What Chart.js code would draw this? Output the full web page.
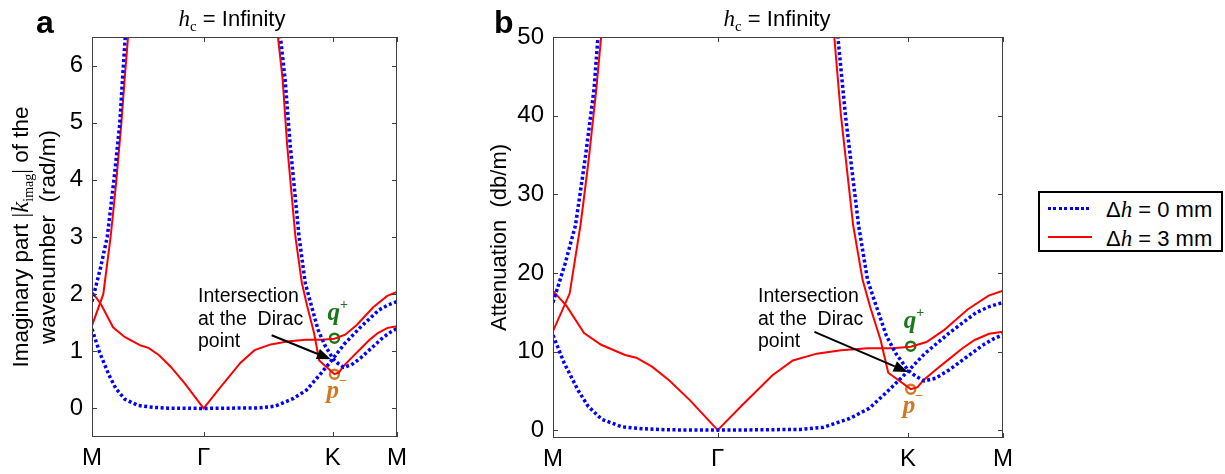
<!DOCTYPE html>
<html>
<head>
<meta charset="utf-8">
<script src="https://cdn.jsdelivr.net/npm/chart.js@4.4.1/dist/chart.umd.min.js"></script>
<style>
  body { margin: 0; background: #fff; width: 1225px; height: 474px; position: relative; overflow: hidden; font-family: "Liberation Sans", Arial, sans-serif; }
  canvas { position: absolute; top: 0; }
  #chartA { left: 0; }
  #chartB { left: 455px; }
  .legend { position: absolute; left: 1038px; top: 191px; width: 181px; height: 57px; border: 2px solid #000; background: #fff; }
  .swatch { position: absolute; left: 8px; width: 44px; }
  .dotted { top: 14px; height: 3px; background: repeating-linear-gradient(90deg, #0000ff 0 3px, transparent 3px 5.5px); }
  .solid { top: 43px; height: 2px; background: #ff0000; }
  .label { position: absolute; left: 66px; font-size: 22px; line-height: 22px; white-space: pre; color: #000; }
  .label i { font-family: "Liberation Serif", "Times New Roman", serif; font-size: 23px; }
</style>
</head>
<body>
<canvas id="chartA" width="440" height="474"></canvas>
<canvas id="chartB" width="565" height="474"></canvas>
<div class="legend">
  <div class="swatch dotted"></div>
  <div class="label" style="top:6px">Δ<i>h</i> = 0 mm</div>
  <div class="swatch solid"></div>
  <div class="label" style="top:35px">Δ<i>h</i> = 3 mm</div>
</div>
<script>
const SANS = '"Liberation Sans", Arial, sans-serif';
const SERIF = '"Liberation Serif", "Times New Roman", serif';

// position along the M-Γ-K-M path, scaled so the whole path runs 0..1
const pathTicks = [0, 0.366, 0.789, 1];
const pathLabels = ["M", "Γ", "K", "M"];

const kTicks = [0, 1, 2, 3, 4, 5, 6];
const dbTicks = [0, 10, 20, 30, 40, 50];

// |k_imag| in rad/m, Δh = 0 mm
const flatBand0 = [[0, 1.39], [0.025, 0.98], [0.056, 0.58], [0.078, 0.35], [0.108, 0.16], [0.152, 0.05], [0.2, 0.02], [0.25, 0.005], [0.366, 0], [0.55, 0.01], [0.6, 0.04], [0.659, 0.17], [0.703, 0.32], [0.747, 0.59], [0.79, 0.87], [0.826, 1.12], [0.88, 1.42], [0.94, 1.72], [0.97, 1.81], [1, 1.87]];
const leftBand0 = [[0, 1.87], [0.027, 2.44], [0.05, 3.0], [0.072, 4.0], [0.091, 4.98], [0.1, 5.76], [0.109, 6.49], [0.114, 7.2]];
const rightBand0 = [[0.612, 7.3], [0.618, 6.49], [0.633, 5.76], [0.65, 4.6], [0.679, 3.0], [0.699, 2.2], [0.714, 1.9], [0.741, 1.38], [0.762, 1.12], [0.79, 0.87], [0.806, 0.79], [0.825, 0.72], [0.85, 0.76], [0.88, 0.88], [0.917, 1.06], [0.954, 1.24], [0.98, 1.34], [1, 1.40]];

// |k_imag| in rad/m, Δh = 3 mm
const leftBand3 = [[0, 1.45], [0.037, 2.0], [0.061, 3.0], [0.069, 3.41], [0.08, 4.0], [0.096, 4.98], [0.107, 5.76], [0.118, 6.49], [0.123, 7.2]];
const gammaBand3 = [[0, 2.04], [0.03, 1.82], [0.069, 1.42], [0.107, 1.25], [0.16, 1.10], [0.185, 1.06], [0.22, 0.93], [0.258, 0.73], [0.304, 0.44], [0.366, 0], [0.418, 0.35], [0.487, 0.8], [0.533, 1.02], [0.586, 1.12], [0.64, 1.17], [0.7, 1.2], [0.754, 1.2], [0.795, 1.22], [0.83, 1.29], [0.868, 1.46], [0.922, 1.77], [0.968, 1.97], [1, 2.04]];
const rightBand3 = [[0.605, 7.2], [0.61, 6.49], [0.625, 5.76], [0.64, 4.6], [0.667, 3.0], [0.688, 2.2], [0.705, 1.8], [0.728, 1.32], [0.745, 0.84], [0.795, 0.6], [0.81, 0.63], [0.823, 0.73], [0.85, 0.88], [0.88, 1.04], [0.91, 1.2], [0.937, 1.32], [0.969, 1.41], [1, 1.44]];

// split modes at K
const qPlus = [0.795, 1.23];
const pMinus = [0.795, 0.60];

// attenuation in dB/m = 20·log10(e) × |k_imag|
const DB_PER_NEPER = 20 * Math.log10(Math.E);

const BLUE = "#0000ff";
const RED = "#ff0000";
const GREEN = "#1a781a";
const ORANGE = "#cf7a22";

function curve(points, color, dotted, scale) {
  return {
    data: points.map(([x, y]) => ({ x: x, y: y * scale })),
    showLine: true,
    pointRadius: 0,
    borderColor: color,
    borderWidth: dotted ? 3.5 : 2,
    borderDash: dotted ? [3, 2.5] : [],
    tension: 0,
    fill: false,
  };
}

function marker(p, color, scale) {
  return {
    data: [{ x: p[0], y: p[1] * scale }],
    showLine: false,
    pointRadius: 4.5,
    pointBorderWidth: 2.5,
    pointBorderColor: color,
    pointBackgroundColor: "rgba(0,0,0,0)",
  };
}

// draws a run of differently styled text pieces one after another
function drawRuns(ctx, runs, x, y, align) {
  let w = 0;
  runs.forEach((r) => { ctx.font = r.font; w += ctx.measureText(r.text).width; });
  let cx = align === "center" ? x - w / 2 : x;
  runs.forEach((r) => {
    ctx.font = r.font;
    ctx.fillText(r.text, cx, y + (r.dy || 0));
    cx += ctx.measureText(r.text).width;
  });
}

const decor = {
  id: "decor",
  afterDatasetsDraw(chart, args, o) {
    const ctx = chart.ctx;
    const { left, right, top, bottom } = chart.chartArea;
    const xs = chart.scales.x;
    const ys = chart.scales.y;
    ctx.save();
    ctx.textAlign = "left";
    ctx.textBaseline = "alphabetic";
    ctx.fillStyle = "#000";

    // axes box with inward ticks
    ctx.strokeStyle = "#404040";
    ctx.lineWidth = 1;
    ctx.strokeRect(left + 0.5, top + 0.5, right - left - 1, bottom - top - 1);
    ctx.beginPath();
    xs.ticks.forEach((t) => {
      const px = Math.round(xs.getPixelForValue(t.value)) + 0.5;
      ctx.moveTo(px, bottom); ctx.lineTo(px, bottom - 5);
      ctx.moveTo(px, top); ctx.lineTo(px, top + 5);
    });
    ys.ticks.forEach((t) => {
      const py = Math.round(ys.getPixelForValue(t.value)) + 0.5;
      ctx.moveTo(left, py); ctx.lineTo(left + 5, py);
      ctx.moveTo(right, py); ctx.lineTo(right - 5, py);
    });
    ctx.stroke();

    // panel letter and title
    ctx.font = `bold 32px ${SANS}`;
    ctx.fillText(o.letter, left + o.letterDx, top - 4);
    drawRuns(ctx, [
      { text: "h", font: `italic 23px ${SERIF}` },
      { text: "c", font: `15px ${SERIF}`, dy: 5 },
      { text: " = Infinity", font: `22px ${SANS}` },
    ], left + o.titleDx, top - 11, "center");

    // rotated y-axis title
    const cy = (top + bottom) / 2;
    o.yTitle.forEach((line) => {
      ctx.save();
      ctx.translate(left + line.dx, cy);
      ctx.rotate(-Math.PI / 2);
      drawRuns(ctx, line.runs, 0, 0, "center");
      ctx.restore();
    });

    // note and arrow pointing at the crossing
    ctx.font = `19.5px ${SANS}`;
    o.note.forEach((t, i) => ctx.fillText(t, left + o.noteDx, top + o.noteDy + i * 22.5));
    const x0 = xs.getPixelForValue(o.arrow[0][0]);
    const y0 = ys.getPixelForValue(o.arrow[0][1]);
    const x1 = xs.getPixelForValue(o.arrow[1][0]);
    const y1 = ys.getPixelForValue(o.arrow[1][1]);
    const ang = Math.atan2(y1 - y0, x1 - x0);
    const head = 14;
    ctx.strokeStyle = "#000";
    ctx.lineWidth = 2;
    ctx.beginPath();
    ctx.moveTo(x0, y0);
    ctx.lineTo(x1 - head * Math.cos(ang), y1 - head * Math.sin(ang));
    ctx.stroke();
    ctx.beginPath();
    ctx.moveTo(x1, y1);
    ctx.lineTo(x1 - head * Math.cos(ang) + 5.5 * Math.sin(ang), y1 - head * Math.sin(ang) - 5.5 * Math.cos(ang));
    ctx.lineTo(x1 - head * Math.cos(ang) - 5.5 * Math.sin(ang), y1 - head * Math.sin(ang) + 5.5 * Math.cos(ang));
    ctx.closePath();
    ctx.fill();

    // mode labels next to the split points
    const qx = xs.getPixelForValue(qPlus[0]);
    const qy = ys.getPixelForValue(qPlus[1] * o.scale);
    ctx.fillStyle = GREEN;
    drawRuns(ctx, [
      { text: "q", font: `bold italic 25px ${SERIF}` },
      { text: "+", font: `bold 14px ${SERIF}`, dy: -11 },
    ], qx - 7, qy - 18, "left");
    const px = xs.getPixelForValue(pMinus[0]);
    const py = ys.getPixelForValue(pMinus[1] * o.scale);
    ctx.fillStyle = ORANGE;
    drawRuns(ctx, [
      { text: "p", font: `bold italic 25px ${SERIF}` },
      { text: "\u2212", font: `bold 14px ${SERIF}`, dy: -13 },
    ], px - 8, py + 24, "left");
    ctx.restore();
  },
};

function makePanel(canvas, cfg) {
  const s = cfg.scale;
  return new Chart(canvas, {
    type: "scatter",
    data: {
      datasets: [
        curve(flatBand0, BLUE, true, s),
        curve(leftBand0, BLUE, true, s),
        curve(rightBand0, BLUE, true, s),
        curve(leftBand3, RED, false, s),
        curve(gammaBand3, RED, false, s),
        curve(rightBand3, RED, false, s),
        marker(qPlus, GREEN, s),
        marker(pMinus, ORANGE, s),
      ],
    },
    options: {
      responsive: false,
      animation: false,
      layout: { padding: { left: 0, right: cfg.padRight, top: 37, bottom: 0 } },
      plugins: {
        legend: { display: false },
        tooltip: { enabled: false },
        decor: cfg.decor,
      },
      scales: {
        x: {
          type: "linear",
          min: 0,
          max: 1,
          grid: { display: false, drawTicks: false },
          border: { display: false },
          ticks: {
            font: { family: SANS, size: 24 },
            color: "#000",
            padding: 7,
            maxRotation: 0,
            callback: (v, i) => pathLabels[i],
          },
          afterBuildTicks: (sc) => { sc.ticks = pathTicks.map((v) => ({ value: v })); },
          afterFit: (sc) => { sc.height = cfg.xHeight; },
        },
        y: {
          min: cfg.yMin,
          max: cfg.yMax,
          grid: { display: false, drawTicks: false },
          border: { display: false },
          ticks: {
            font: { family: SANS, size: 24 },
            color: "#000",
            padding: 9,
          },
          afterBuildTicks: (sc) => { sc.ticks = cfg.yTicks.map((v) => ({ value: v })); },
          afterFit: (sc) => { sc.width = cfg.yWidth; },
        },
      },
    },
    plugins: [decor],
  });
}

makePanel(document.getElementById("chartA"), {
  scale: 1,
  yMin: -0.5,
  yMax: 6.5,
  yTicks: kTicks,
  yWidth: 92,
  xHeight: 37,
  padRight: 43,
  decor: {
    scale: 1,
    letter: "a",
    letterDx: -56,
    titleDx: 140,
    yTitle: [
      { dx: -64, runs: [
        { text: "Imaginary part ", font: `22.5px ${SANS}` },
        { text: "|", font: `23px ${SERIF}` },
        { text: "k", font: `italic 25px ${SERIF}` },
        { text: "imag", font: `14px ${SERIF}`, dy: 5 },
        { text: "|", font: `23px ${SERIF}` },
        { text: " of the", font: `22.5px ${SANS}` },
      ] },
      { dx: -37, runs: [{ text: "wavenumber  (rad/m)", font: `22.5px ${SANS}` }] },
    ],
    note: ["Intersection", "at the  Dirac", "point"],
    noteDx: 106,
    noteDy: 265,
    arrow: [[0.589, 1.28], [0.783, 0.86]],
  },
});

makePanel(document.getElementById("chartB"), {
  scale: DB_PER_NEPER,
  yMin: -1,
  yMax: 50,
  yTicks: dbTicks,
  yWidth: 98,
  xHeight: 36,
  padRight: 16,
  decor: {
    scale: DB_PER_NEPER,
    letter: "b",
    letterDx: -59,
    titleDx: 224,
    yTitle: [
      { dx: -47, runs: [{ text: "Attenuation  (db/m)", font: `22px ${SANS}` }] },
    ],
    note: ["Intersection", "at the  Dirac", "point"],
    noteDx: 205,
    noteDy: 265,
    arrow: [[0.581, 12.5], [0.788, 7.4]],
  },
});
</script>
</body>
</html>
